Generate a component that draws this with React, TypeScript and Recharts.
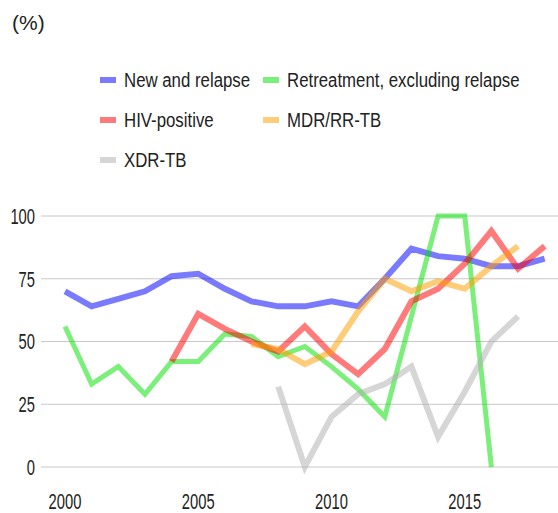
import { CartesianGrid, Line, LineChart, XAxis, YAxis } from "recharts";

const YEARS = [
  2000, 2001, 2002, 2003, 2004, 2005, 2006, 2007, 2008, 2009, 2010, 2011, 2012, 2013, 2014, 2015, 2016, 2017, 2018,
];
const NEW_AND_RELAPSE = [70, 64, 67, 70, 76, 77, 71, 66, 64, 64, 66, 64, 75, 87, 84, 83, 80, 80, 83];
const RETREATMENT = [56, 33, 40, 29, 42, 42, 53, 52, 44, 48, 40, 31, 20, 60, 100, 100, 0, null, null];
const HIV_POSITIVE = [null, null, null, null, 42, 61, 55, 50, 46, 56, 45, 37, 47, 66, 71, 81, 94, 79, 88];
const MDR_RR_TB = [null, null, null, null, null, null, null, 49, 47, 41, 46, 62, 75, 70, 74, 71, 80, 88, null];
const XDR_TB = [null, null, null, null, null, null, null, null, 32, 0, 20, 29, 33, 40, 12, 30, 50, 60, null];

const X_TICKS = [2000, 2005, 2010, 2015];
const Y_TICKS = [0, 25, 50, 75, 100];

const SERIES = [
  { key: "newRelapse", name: "New and relapse", color: "#0000ff", width: 6 },
  { key: "retreatment", name: "Retreatment, excluding relapse", color: "#00e000", width: 5 },
  { key: "hiv", name: "HIV-positive", color: "#ff0000", width: 6 },
  { key: "mdr", name: "MDR/RR-TB", color: "#ffa000", width: 6 },
  { key: "xdr", name: "XDR-TB", color: "#b0b0b0", width: 6 },
];

const data = YEARS.map((year, i) => ({
  year,
  newRelapse: NEW_AND_RELAPSE[i],
  retreatment: RETREATMENT[i],
  hiv: HIV_POSITIVE[i],
  mdr: MDR_RR_TB[i],
  xdr: XDR_TB[i],
}));

const FONT = "'Liberation Sans', Arial, sans-serif";
const TEXT = "#222";
const OPACITY = 0.52;

/** 좁은 글꼴이 없어서 가로로 눌러 그린 축 라벨. */
function NarrowTick(props: {
  x?: number;
  y?: number;
  payload?: { value: number };
  textAnchor?: string;
  anchorDy?: string;
}) {
  const { x = 0, y = 0, payload, textAnchor, anchorDy } = props;
  return (
    <g transform={`translate(${x},${y})`}>
      <text
        transform="scale(0.67,1)"
        textAnchor={textAnchor as any}
        dy={anchorDy}
        fontFamily={FONT}
        fontSize={22}
        fill={TEXT}
      >
        {payload?.value}
      </text>
    </g>
  );
}

// 2열 범례 (원본 배치 그대로)
function ChartLegend() {
  return (
    <>
      {SERIES.map((s, i) => (
        <div
          key={s.key}
          style={{
            position: "absolute",
            left: 100 + (i % 2) * 163,
            top: 70 + Math.floor(i / 2) * 40,
            height: 20,
            display: "flex",
            alignItems: "center",
            fontFamily: FONT,
            fontSize: 20,
            lineHeight: "20px",
            color: TEXT,
            whiteSpace: "nowrap",
          }}
        >
          <span style={{ width: 16, height: 6, background: s.color, opacity: OPACITY, marginRight: 8 }} />
          <span style={{ display: "inline-block", transform: "scaleX(0.84)", transformOrigin: "left center" }}>
            {s.name}
          </span>
        </div>
      ))}
    </>
  );
}

export default function App() {
  return (
    <div
      style={{
        position: "absolute",
        left: 0,
        top: 0,
        width: 558,
        height: 513,
        background: "#fff",
        overflow: "hidden",
      }}
    >
      <div style={{ position: "absolute", left: 12, top: 11, fontFamily: FONT, fontSize: 21, color: TEXT }}>
        (%)
      </div>
      <ChartLegend />
      <LineChart width={558} height={513} data={data} margin={{ top: 216, right: 0, bottom: 0, left: 0 }}>
        <CartesianGrid vertical={false} stroke="#c8c8c8" />
        <XAxis
          dataKey="year"
          type="number"
          domain={[1999.1, 2018.5]}
          ticks={X_TICKS}
          axisLine={false}
          tickLine={false}
          tickSize={0}
          tickMargin={26}
          height={46}
          tick={<NarrowTick anchorDy="0.71em" />}
        />
        <YAxis
          domain={[0, 100]}
          ticks={Y_TICKS}
          axisLine={false}
          tickLine={false}
          tickSize={0}
          tickMargin={6}
          width={41}
          tick={<NarrowTick anchorDy="0.355em" />}
        />
        {SERIES.map((s) => (
          <Line
            key={s.key}
            dataKey={s.key}
            name={s.name}
            type="linear"
            stroke={s.color}
            strokeOpacity={OPACITY}
            strokeWidth={s.width}
            dot={false}
            activeDot={false}
            isAnimationActive={false}
          />
        ))}
      </LineChart>
    </div>
  );
}
